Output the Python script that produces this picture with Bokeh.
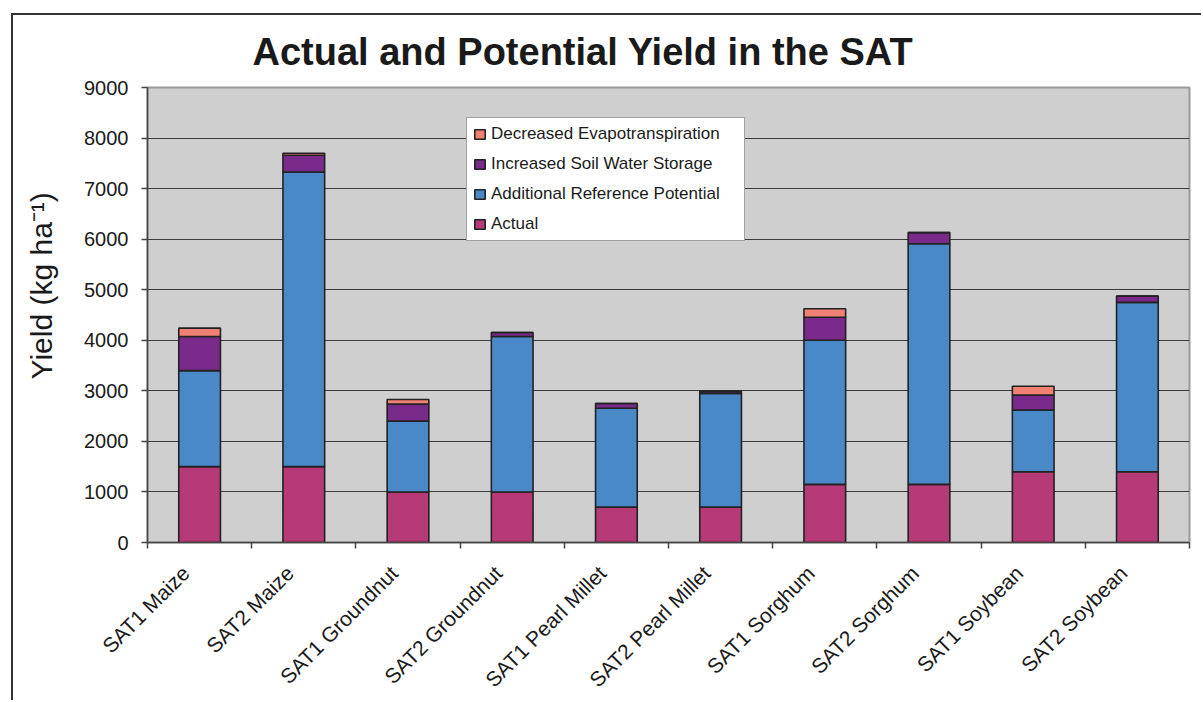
import math
from bokeh.plotting import figure
from bokeh.models import (Range1d, FixedTicker, Legend, LegendItem, ColumnDataSource)
from bokeh.embed import file_html
from bokeh.resources import INLINE

# ---------------- data ----------------
categories = ["SAT1 Maize", "SAT2 Maize", "SAT1 Groundnut", "SAT2 Groundnut",
              "SAT1 Pearl Millet", "SAT2 Pearl Millet", "SAT1 Sorghum", "SAT2 Sorghum",
              "SAT1 Soybean", "SAT2 Soybean"]
actual = [1500, 1500, 1000, 1000, 700, 700, 1150, 1150, 1400, 1400]
additional_reference = [1900, 5830, 1400, 3075, 1955, 2250, 2850, 4760, 1220, 3350]
increased_soil_water = [675, 330, 340, 80, 95, 40, 455, 220, 295, 125]
decreased_et = [165, 40, 90, 0, 0, 0, 170, 0, 175, 0]
series_names = ["Actual", "Additional Reference Potential",
                "Increased Soil Water Storage", "Decreased Evapotranspiration"]
y_ticks = [0, 1000, 2000, 3000, 4000, 5000, 6000, 7000, 8000, 9000]

# ---------------- styling ----------------
colors = ["#B53A75", "#4A89C7", "#7A2A8A", "#F08174"]
FONT = "Liberation Sans"
TEXT = "#1a1a1a"
LABEL_SHIFT = -0.134      # rotated labels end slightly left of the category centre

n = len(categories)
xs = [i + 0.5 for i in range(n)]
label_pos = [x + LABEL_SHIFT for x in xs]
boundaries = list(range(n + 1))

source = ColumnDataSource(dict(x=xs, actual=actual, additional=additional_reference,
                               soil=increased_soil_water, et=decreased_et))

p = figure(width=1190, height=687, output_backend="svg", toolbar_location=None,
           x_range=Range1d(0, n), y_range=Range1d(y_ticks[0], y_ticks[-1]),
           min_border_left=134, min_border_right=14, min_border_top=72,
           min_border_bottom=157)

# outer chart border (left and top edges visible in the reference)
p.styles = {"margin-left": "11px", "margin-top": "13px",
            "border-left": "2px solid #333333", "border-top": "2px solid #333333"}

p.background_fill_color = "#CFCFCF"
p.border_fill_color = "white"
p.outline_line_color = "#999999"
p.outline_line_width = 2

renderers = p.vbar_stack(["actual", "additional", "soil", "et"], x="x", width=0.4,
                         source=source, fill_color=colors, line_color="#222222",
                         line_width=1.6)

# title
p.title.text = "Actual and Potential Yield in the SAT"
p.title.text_font = FONT
p.title.text_font_style = "bold"
p.title.text_font_size = "38px"
p.title.text_color = TEXT
p.title.align = "left"
p.title.offset = 105
p.title.vertical_align = "top"
p.title.standoff = 25

# y axis
p.yaxis.ticker = FixedTicker(ticks=y_ticks)
p.yaxis.major_label_text_font = FONT
p.yaxis.major_label_text_font_size = "20px"
p.yaxis.major_label_text_color = TEXT
p.yaxis.major_tick_out = 6
p.yaxis.major_tick_in = 0
p.yaxis.minor_tick_line_color = None
p.yaxis.major_label_standoff = 13
p.yaxis.axis_line_color = "#444444"
p.yaxis.axis_line_width = 1.5
p.yaxis.major_tick_line_color = "#444444"
p.yaxis.major_tick_line_width = 1.5
# leading no-break spaces lift the centred label to where the reference has it
p.yaxis.axis_label = "\u00a0" * 7 + "Yield (kg ha\u207b\u00b9)"
p.yaxis.axis_label_text_font = FONT
p.yaxis.axis_label_text_font_size = "30px"
p.yaxis.axis_label_text_font_style = "normal"
p.yaxis.axis_label_text_color = TEXT
p.yaxis.axis_label_standoff = 23

# x axis: labels on (shifted) centres, visible ticks on category boundaries
p.xaxis.ticker = FixedTicker(ticks=label_pos, minor_ticks=boundaries)
p.xaxis.major_label_overrides = {pos: name for pos, name in zip(label_pos, categories)}
p.xaxis.major_label_orientation = math.pi / 4
p.xaxis.major_label_text_font = FONT
p.xaxis.major_label_text_font_size = "21px"
p.xaxis.major_label_text_color = TEXT
p.xaxis.major_label_standoff = 21
p.xaxis.major_tick_out = 6
p.xaxis.major_tick_in = 0
p.xaxis.major_tick_line_color = None
p.xaxis.minor_tick_out = 6
p.xaxis.minor_tick_in = 0
p.xaxis.minor_tick_line_color = "#444444"
p.xaxis.minor_tick_line_width = 1.5
p.xaxis.axis_line_color = "#444444"
p.xaxis.axis_line_width = 1.5

p.xgrid.grid_line_color = None
p.ygrid.ticker = FixedTicker(ticks=y_ticks)
p.ygrid.grid_line_color = "#3a3a3a"
p.ygrid.grid_line_width = 1.2

# legend (reverse order like the reference)
items = [LegendItem(label=series_names[i], renderers=[renderers[i]])
         for i in reversed(range(len(series_names)))]
legend = Legend(items=items, location=(319, 301))
legend.glyph_width = 13
legend.glyph_height = 12
legend.label_text_font = FONT
legend.label_text_font_size = "17px"
legend.label_text_color = TEXT
legend.label_standoff = 5
legend.label_height = 20
legend.label_width = 247
legend.spacing = 10
legend.padding = 6
legend.margin = 0
legend.border_line_color = "#444444"
legend.border_line_width = 1
legend.background_fill_color = "white"
legend.background_fill_alpha = 1
p.add_layout(legend)

open("out.html", "w").write(file_html(p, INLINE))
